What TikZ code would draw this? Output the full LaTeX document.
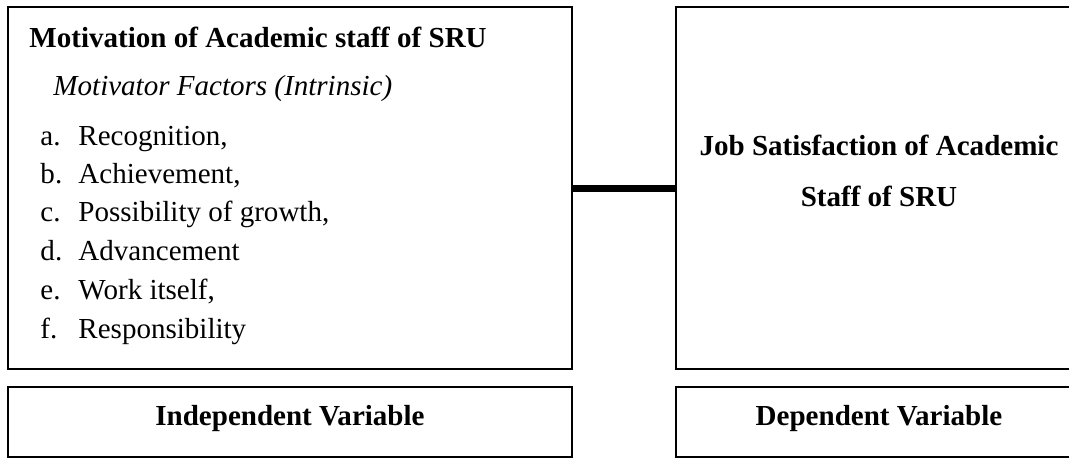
\documentclass[tikz,border=0pt]{standalone}
\usepackage{fontspec}
\setmainfont{Liberation Serif}
\newcommand\lbl[1]{\makebox[15.7pt][l]{#1}}
\tikzset{
  frame/.style={draw,line width=0.8pt,inner sep=0pt},
  item/.style={anchor=base west,inner sep=0pt,font=\fontsize{12}{14}\selectfont},
  head/.style={anchor=base,inner sep=0pt,font=\fontsize{12}{14}\selectfont\bfseries},
}
\begin{document}
\begin{tikzpicture}[x=0.4133pt,y=-0.4133pt]

  \useasboundingbox (0,0) rectangle (1069,459);
  \clip (0,0) rectangle (1069,459);

  \node[frame,minimum width=564*0.4133pt,minimum height=362*0.4133pt] (motiv) at (290,188) {};
  \node[frame,minimum width=406*0.4133pt,minimum height=362*0.4133pt] (jobsat) at (879,188) {};
  \node[frame,minimum width=564*0.4133pt,minimum height=70*0.4133pt] (indep) at (290,422) {};
  \node[frame,minimum width=406*0.4133pt,minimum height=70*0.4133pt] (dep) at (879,422) {};

  \draw[line width=2.9pt] (motiv.east) -- (jobsat.west);

  \node[item,font=\fontsize{12}{14}\selectfont\bfseries] (title) at (29,47) {Motivation of Academic staff of SRU};
  \node[item,font=\fontsize{12}{14}\selectfont\itshape] (factors) at (53,95) {Motivator Factors (Intrinsic)};
  \node[item] (recog) at (40,145) {\lbl{a.}Recognition,};
  \node[item] (achiev) at (40,183) {\lbl{b.}Achievement,};
  \node[item] (growth) at (40,221) {\lbl{c.}Possibility of growth,};
  \node[item] (advance) at (40,260) {\lbl{d.}Advancement};
  \node[item] (work) at (40,299) {\lbl{e.}Work itself,};
  \node[item] (resp) at (40,338) {\lbl{f.}Responsibility};

  \node[head] (jobline) at (879,155) {Job Satisfaction of Academic};
  \node[head] (staffline) at (879,206) {Staff of SRU};

  \node[head] (indeplabel) at (290,425) {Independent Variable};
  \node[head] (deplabel) at (879,425) {Dependent Variable};

\end{tikzpicture}
\end{document}
